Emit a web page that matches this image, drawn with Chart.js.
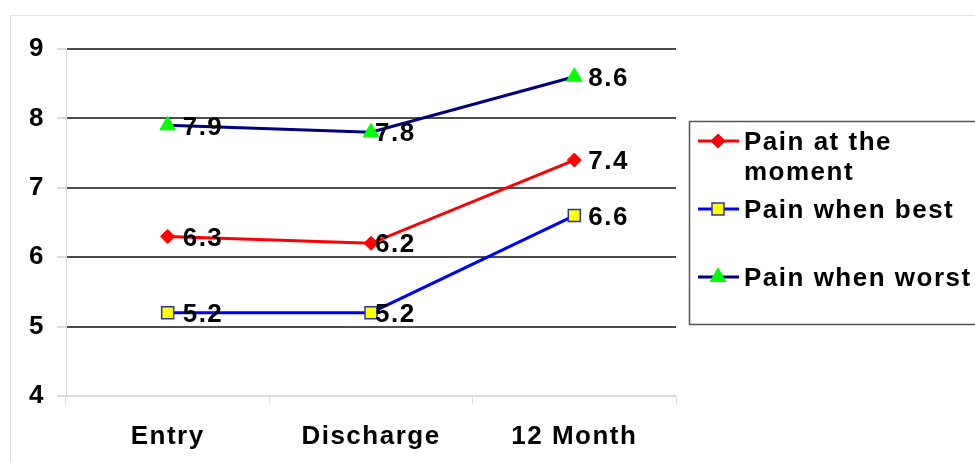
<!DOCTYPE html>
<html>
<head>
<meta charset="utf-8">
<script src="https://cdn.jsdelivr.net/npm/chart.js@4"></script>
<style>
  body { margin: 0; background: #fff; }
  #wrap { width: 975px; height: 462px; position: relative; }
</style>
</head>
<body>
<div id="wrap"><canvas id="chart"></canvas></div>
<script>
const categories = ['Entry', 'Discharge', '12 Month'];
const painMoment = [6.3, 6.2, 7.4];
const painBest = [5.2, 5.2, 6.6];
const painWorst = [7.9, 7.8, 8.6];
const seriesNames = [['Pain at the', 'moment'], ['Pain when best'], ['Pain when worst']];
const yTicks = [4, 5, 6, 7, 8, 9];

const FONT = '"Liberation Sans", Arial, sans-serif';
const SIZE = 26;
const SPACING = '1.5px';
const ctx = document.getElementById('chart').getContext('2d');
let chart;

// value labels sit just right of each point
const labelDx = [15, 4, 14];
const valueLabels = {
    id: 'valueLabels',
    afterDatasetsDraw(chart) {
        const c = chart.ctx;
        c.save();
        c.font = 'bold ' + SIZE + 'px ' + FONT;
        c.fillStyle = '#000';
        c.textBaseline = 'middle';
        c.textAlign = 'left';
        chart.data.datasets.forEach((ds, i) => {
            chart.getDatasetMeta(i).data.forEach((pt, j) => {
                c.fillText(ds.data[j].toFixed(1), pt.x + labelDx[j], pt.y + 2);
            });
        });
        c.restore();
    }
};

// outer frame and boxed legend on the right
const frameAndLegend = {
    id: 'frameAndLegend',
    beforeDraw(chart) {
        const c = chart.ctx;
        c.letterSpacing = SPACING; // wide lettering like the original
        c.save();
        c.strokeStyle = '#e4e4e4';
        c.lineWidth = 1;
        c.strokeRect(10.5, 15.5, 1100, 600);
        c.restore();
    },
    afterDraw(chart) {
        const c = chart.ctx;
        c.save();
        c.strokeStyle = '#555';
        c.lineWidth = 1.5;
        c.strokeRect(689.5, 121.5, 400, 203);
        const rows = [141, 209, 277];
        c.font = 'bold ' + SIZE + 'px ' + FONT;
        c.textBaseline = 'middle';
        chart.data.datasets.forEach((ds, i) => {
            const y = rows[i];
            c.strokeStyle = ds.borderColor;
            c.lineWidth = 3;
            c.beginPath();
            c.moveTo(698, y);
            c.lineTo(739, y);
            c.stroke();
            c.fillStyle = ds.pointBackgroundColor;
            c.strokeStyle = ds.pointBorderColor;
            c.lineWidth = ds.pointBorderWidth;
            Chart.helpers.drawPoint(c, {
                pointStyle: ds.pointStyle,
                radius: ds.pointRadius,
                borderWidth: ds.pointBorderWidth
            }, 718, y);
            c.fillStyle = '#000';
            seriesNames[i].forEach((line, k) => c.fillText(line, 744, y + 2 + k * 30));
        });
        c.restore();
    }
};

chart = new Chart(ctx, {
    type: 'line',
    data: {
        labels: categories,
        datasets: [{
            label: seriesNames[0].join(' '),
            data: painMoment,
            borderColor: '#ff0000',
            borderWidth: 3,
            pointStyle: 'rectRot',
            pointRadius: 7,
            pointBackgroundColor: '#ff0000',
            pointBorderColor: '#ff0000',
            pointBorderWidth: 1
        }, {
            label: seriesNames[1].join(' '),
            data: painBest,
            borderColor: '#0000ff',
            borderWidth: 3,
            pointStyle: 'rect',
            pointRadius: 8.5,
            pointBackgroundColor: '#ffff00',
            pointBorderColor: '#333399',
            pointBorderWidth: 1.5
        }, {
            label: seriesNames[2].join(' '),
            data: painWorst,
            borderColor: '#000080',
            borderWidth: 3,
            pointStyle: 'triangle',
            pointRadius: 9,
            pointBackgroundColor: '#00ff00',
            pointBorderColor: '#00ff00',
            pointBorderWidth: 1
        }]
    },
    options: {
        responsive: true,
        maintainAspectRatio: false,
        animation: false,
        layout: { padding: { top: 49, right: 299, left: 0, bottom: 0 } },
        plugins: {
            legend: { display: false },
            tooltip: { enabled: false }
        },
        scales: {
            x: {
                offset: true,
                grid: {
                    offset: true,
                    drawOnChartArea: false,
                    color: '#dcdcdc',
                    tickLength: 8
                },
                border: { color: '#dcdcdc' },
                ticks: {
                    color: '#000',
                    font: { family: FONT, size: SIZE, weight: 'bold' },
                    padding: 17,
                    maxRotation: 0
                },
                afterFit(scale) { scale.height = 66; }
            },
            y: {
                min: 4,
                max: 9,
                afterBuildTicks(scale) { scale.ticks = yTicks.map(v => ({ value: v })); },
                grid: {
                    color: c => c.tick && c.tick.value === 4 ? '#dcdcdc' : '#4d4d4d',
                    lineWidth: 2,
                    tickColor: '#dcdcdc',
                    tickLength: 9
                },
                border: { color: '#dcdcdc' },
                ticks: {
                    color: '#000',
                    font: { family: FONT, size: SIZE, weight: 'bold' },
                    padding: 12
                },
                afterFit(scale) { scale.width = 66; }
            }
        }
    },
    plugins: [frameAndLegend, valueLabels]
});
</script>
</body>
</html>
